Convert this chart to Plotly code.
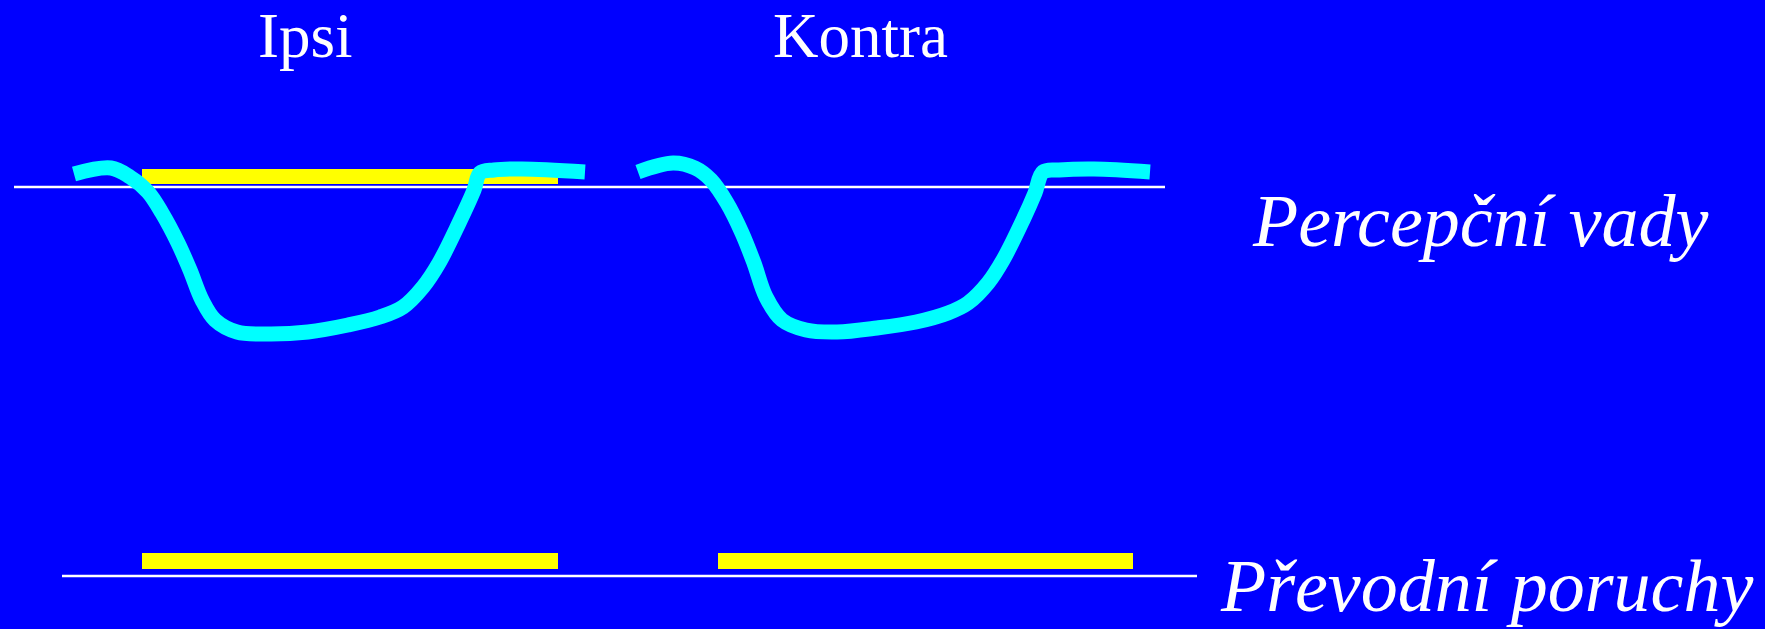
import plotly.graph_objects as go

# 画面は 1765x629 px、座標もそのままピクセル単位で扱う
W, H = 1765, 629

# 聴力曲線 (左: Ipsi, 右: Kontra)
ipsi_x = [74, 111, 130, 148, 162, 178, 190, 202, 215, 237, 269, 308, 348, 380, 403, 423, 439, 459, 474, 480, 494, 522, 585]
ipsi_y = [174, 168, 177, 192, 213, 243, 270, 300, 320, 332, 334, 332, 325, 317, 307, 287, 263, 223, 190, 173, 170, 169, 172]
kontra_x = [638, 673, 695, 711, 727, 742, 754, 766, 782, 806, 837, 877, 916, 948, 968, 988, 1003, 1023, 1035, 1043, 1059, 1094, 1150]
kontra_y = [172, 163, 168, 180, 203, 233, 263, 297, 320, 330, 332, 328, 322, 313, 303, 283, 260, 220, 193, 172, 170, 169, 172]

# 黄色の帯 (開始, 終了, 中心y)
bar_start = [142, 142, 718]
bar_end = [558, 558, 1133]
bar_mid = [176.5, 561, 561]

# 白い基準線
ref_x = [[14, 1165], [62, 1197]]
ref_y = [[187, 187], [576, 576]]

titles = ['Ipsi', 'Kontra']
title_x = [305, 860]
labels = ['Percepční vady', 'Převodní poruchy']
label_x = [1480, 1486]
label_y = [245, 610]

fig = go.Figure()

for xs, ys in zip(ref_x, ref_y):
    fig.add_trace(go.Scatter(x=xs, y=ys, mode='lines', line=dict(color='white', width=2.5), hoverinfo='skip'))

fig.add_trace(go.Bar(
    x=[e - s for s, e in zip(bar_start, bar_end)],
    y=bar_mid, base=bar_start, orientation='h', width=15.5,
    marker=dict(color='#FFFF00', line=dict(width=0)),
))

for xs, ys in [(ipsi_x, ipsi_y), (kontra_x, kontra_y)]:
    fig.add_trace(go.Scatter(x=xs, y=ys, mode='lines', line=dict(color='#00FFFF', width=15, shape='spline', smoothing=1.0)))

for t, tx in zip(titles, title_x):
    fig.add_annotation(x=tx, y=57, text=t, showarrow=False, xanchor='center', yanchor='bottom', yshift=-16,
                       font=dict(family='Liberation Serif', size=63, color='white'))

for t, tx, ty in zip(labels, label_x, label_y):
    fig.add_annotation(x=tx, y=ty, text=f'<i>{t}</i>', showarrow=False, xanchor='center', yanchor='bottom', yshift=-19,
                       font=dict(family='Liberation Serif', size=74, color='white'))

fig.update_layout(
    width=W, height=H, margin=dict(l=0, r=0, t=0, b=0),
    paper_bgcolor='#0000FF', plot_bgcolor='#0000FF',
    showlegend=False, bargap=0,
)
fig.update_xaxes(range=[0, W], visible=False, fixedrange=True)
fig.update_yaxes(range=[H, 0], visible=False, fixedrange=True)

# ページ余白を消してスクロールバーも出さない
fig.write_html("out.html", config={'displayModeBar': False},
               post_script="document.body.style.margin='0';document.body.style.overflow='hidden';")
